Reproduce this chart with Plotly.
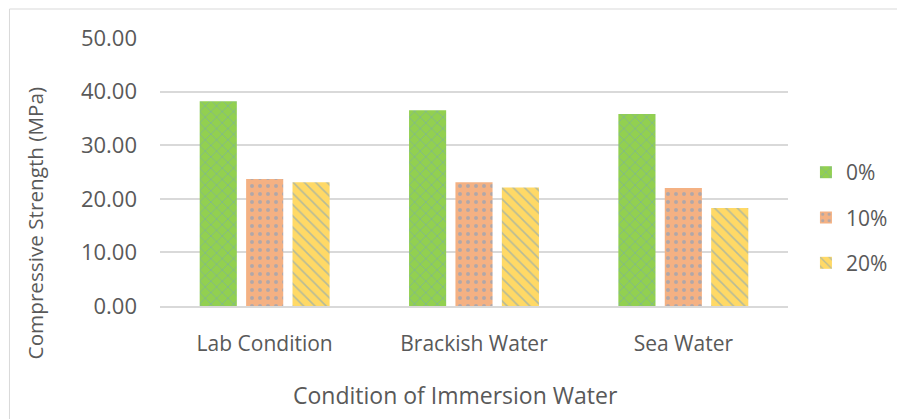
import plotly.graph_objects as go

categories = ["Lab Condition", "Brackish Water", "Sea Water"]
series_names = ["0%", "10%", "20%"]
values_0 = [38.2, 36.5, 35.8]
values_10 = [23.7, 23.1, 22.0]
values_20 = [23.1, 22.1, 18.3]
y_ticks = [0, 10, 20, 30, 40, 50]
y_tick_labels = ["0.00", "10.00", "20.00", "30.00", "40.00", "50.00"]

colors = ["#92D050", "#F4B183", "#FFD966"]
shapes_pat = ["x", ".", "\\"]
pat_fg = "#6E9ECB"

W, H = 897, 411
L, R, T, B = 152, 115, 30, 113
PW, PH = W - L - R, H - T - B

fig = go.Figure()
for name, vals, col, sh in zip(series_names, [values_0, values_10, values_20], colors, shapes_pat):
    fig.add_trace(go.Bar(
        x=categories, y=vals, name=name, legendgroup=name,
        marker=dict(color=col, line=dict(width=0),
                    pattern=dict(shape=sh, fgcolor=pat_fg, bgcolor=col, size=8, solidity=0.2)),
    ))

fig.update_layout(
    width=W, height=H,
    margin=dict(l=L, r=R, t=T, b=B),
    paper_bgcolor="white", plot_bgcolor="white",
    barmode="group", bargap=0.335, bargroupgap=0.2,
    font=dict(family="Open Sans, Liberation Sans, sans-serif", color="#595959"),
    showlegend=True,
    legend=dict(x=(800 - L) / PW, xanchor="left", y=0.33, yanchor="middle",
                font=dict(size=21), tracegroupgap=15, bgcolor="rgba(0,0,0,0)"),
    yaxis=dict(range=[0, 50], tickvals=y_ticks, ticktext=y_tick_labels,
               showgrid=True, gridcolor="#D9D9D9", gridwidth=1.5, zeroline=False,
               tickfont=dict(size=22), ticks="", ticklabelstandoff=22),
    xaxis=dict(showline=True, linecolor="#D9D9D9", linewidth=1.5, ticks="",
               tickfont=dict(size=21), ticklabelstandoff=18),
    annotations=[
        dict(text="Compressive Strength (MPa)", textangle=-90, xref="paper", yref="paper",
             x=(27 - L) / PW, y=(T + PH - 215) / PH,
             xanchor="center", yanchor="middle", showarrow=False, font=dict(size=20.7)),
        dict(text="Condition of Immersion Water", xref="paper", yref="paper",
             x=(448 - L) / PW, y=-(387 - T - PH) / PH,
             xanchor="center", yanchor="middle", showarrow=False, font=dict(size=23)),
    ],
    shapes=[dict(type="rect", xref="paper", yref="paper",
                 x0=(1 - L) / PW, x1=(W + 20 - L) / PW,
                 y0=-(B + 20) / PH, y1=1 + (T - 1) / PH,
                 line=dict(color="#D9D9D9", width=1), fillcolor="rgba(0,0,0,0)", layer="below")],
)

fig.write_html("out.html")
